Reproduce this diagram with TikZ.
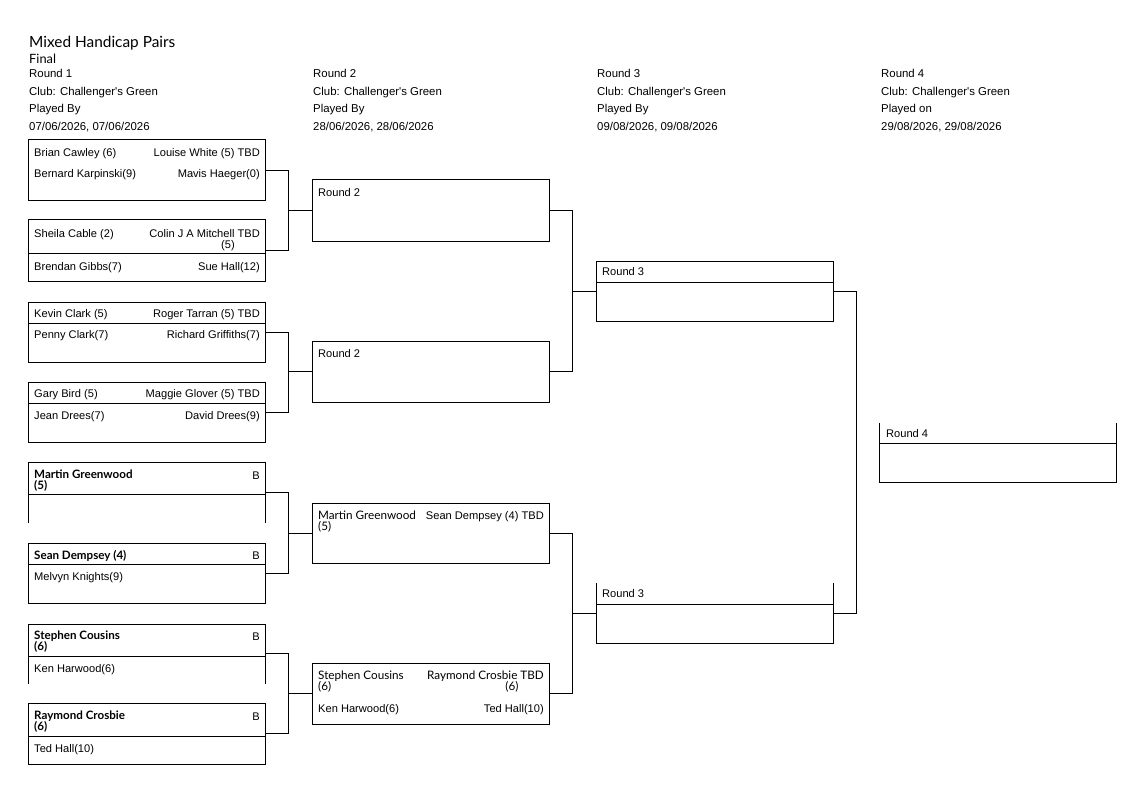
\documentclass[tikz,border=0pt]{standalone}
\usepackage{fontspec}
\setmainfont{Liberation Sans}
\newfontfamily\latofont{Lato}
\usetikzlibrary{calc}
\newcommand\hdrfont{\fontsize{11.4}{13}\selectfont}
\newcommand\nmfont{\fontsize{11.1}{12}\selectfont}
\newcommand\bnmfont{\latofont\bfseries\fontsize{11.6}{12}\selectfont}
\newcommand\lnmfont{\latofont\fontsize{11.7}{12}\selectfont}
\tikzset{
  hdr/.style={anchor=base west, inner sep=0pt, font=\hdrfont},
  nm/.style={anchor=base west, inner sep=0pt, font=\nmfont},
  nmr/.style={anchor=base east, inner sep=0pt, font=\nmfont},
  nmc/.style={anchor=base, inner sep=0pt, font=\nmfont},
  bnm/.style={anchor=base west, inner sep=0pt, font=\bnmfont},
  bnmr/.style={anchor=base east, inner sep=0pt, font=\nmfont},
  lnm/.style={anchor=base west, inner sep=0pt, font=\lnmfont},
  lnmr/.style={anchor=base east, inner sep=0pt, font=\lnmfont},
  lnmc/.style={anchor=base, inner sep=0pt, font=\lnmfont},
  boxarea/.style={draw=none, minimum width=237pt, inner sep=0pt, outer sep=0pt},
  ln/.style={line width=1pt, line cap=rect},
}
\begin{document}
\begin{tikzpicture}[x=1pt,y=-1pt]
\useasboundingbox (0,0) rectangle (1131,802);
\fill[white] (0,0) rectangle (1131,802);

% ---- titles ----
\node[anchor=base west, inner sep=0pt, font=\latofont\fontsize{15.4}{17}\selectfont] (title) at (29,48) {Mixed Handicap Pairs};
\node[anchor=base west, inner sep=0pt, font=\latofont\fontsize{12.8}{15}\selectfont] (final) at (29,63.5) {Final};

% ---- column headers ----
\foreach \cx/\rn/\pl [count=\i] in {29/1/By, 313/2/By, 597/3/By, 881/4/on}{
  \node[hdr] (hr\i) at (\cx,77.5) {Round \rn};
  \node[hdr] (hc\i) at (\cx,95.5) {Club: Challenger\textquotesingle s Green};
  \node[hdr] (hp\i) at (\cx,112.5) {Played \pl};
}
\node[hdr] (hd1) at (29,130.5) {07/06/2026, 07/06/2026};
\node[hdr] (hd2) at (313,130.5) {28/06/2026, 28/06/2026};
\node[hdr] (hd3) at (597,130.5) {09/08/2026, 09/08/2026};
\node[hdr] (hd4) at (881,130.5) {29/08/2026, 29/08/2026};

% ---- box areas ----
\node[boxarea, minimum height=61pt] (b1) at (146.5,170.5) {};
\node[boxarea, minimum height=61pt] (b2) at (146.5,250.5) {};
\node[boxarea, minimum height=60pt] (b3) at (146.5,332) {};
\node[boxarea, minimum height=60pt] (b4) at (146.5,412) {};
\node[boxarea, minimum height=60pt] (b5) at (146.5,492) {};
\node[boxarea, minimum height=60pt] (b6) at (146.5,573) {};
\node[boxarea, minimum height=59pt] (b7) at (146.5,653.5) {};
\node[boxarea, minimum height=61pt] (b8) at (146.5,733.5) {};

\node[boxarea, minimum height=61pt] (r2a) at (431,210.5) {};
\node[boxarea, minimum height=61pt] (r2b) at (431,371.5) {};
\node[boxarea, minimum height=60pt] (r2c) at (431,533) {};
\node[boxarea, minimum height=61pt] (r2d) at (431,693.5) {};

\node[boxarea, minimum height=60pt] (r3a) at (714.5,291) {};
\node[boxarea, minimum height=60pt] (r3b) at (714.5,613) {};

\node[boxarea, minimum height=59pt] (r4) at (998,452.5) {};

% ---- borders ----
\foreach \b in {b1,b2,b3,b4,b6,b8,r2a,r2b,r2c,r2d,r3a}{
  \draw[ln] (\b.south west) rectangle (\b.north east);
}
\foreach \b in {b5,b7}{
  \draw[ln] (\b.south west) -- (\b.north west) -- (\b.north east) -- (\b.south east);
}
\foreach \b in {r3b,r4}{
  \draw[ln] (\b.north west) -- (\b.south west) -- (\b.south east) -- (\b.north east);
}
% separators
\foreach \b/\yy in {b2/253,b3/323,b4/403,b5/494,b6/564,b7/656,b8/736,r3a/282,r3b/604,r4/443}{
  \draw[ln] (\b.west |- 0,\yy) -- (\b.east |- 0,\yy);
}

% ---- connectors ----
\foreach \u/\l/\n in {b1/b2/r2a, b3/b4/r2b, b5/b6/r2c, b7/b8/r2d, r2a/r2b/r3a, r2c/r2d/r3b}{
  \coordinate (m-\n) at ($(\u.east)!.5!(\n.west)$);
  \draw[ln] (\u.east) -| (m-\n |- \l.east) -- (\l.east);
  \draw[ln] (m-\n |- \n.west) -- (\n.west);
}
\coordinate (m-r4) at ($(r3a.east)!.5!(r4.west)$);
\draw[ln] (r3a.east) -| (m-r4 |- r3b.east) -- (r3b.east);

% ---- round 1 texts ----
\node[nm] (t1a) at (34,157) {Brian Cawley (6)};
\node[nmr] (t1b) at (260,157) {Louise White (5) TBD};
\node[nm] (t1c) at (34,177.5) {Bernard Karpinski(9)};
\node[nmr] (t1d) at (260,177.5) {Mavis Haeger(0)};

\node[nm] (t2a) at (34,237) {Sheila Cable (2)};
\node[nmr] (t2b) at (260,237) {Colin J A Mitchell TBD};
\node[nmc] (t2b2) at (228,248.5) {(5)};
\node[nm] (t2c) at (34,270) {Brendan Gibbs(7)};
\node[nmr] (t2d) at (260,270) {Sue Hall(12)};

\node[nm] (t3a) at (34,317.5) {Kevin Clark (5)};
\node[nmr] (t3b) at (260,317.5) {Roger Tarran (5) TBD};
\node[nm] (t3c) at (34,338) {Penny Clark(7)};
\node[nmr] (t3d) at (260,338) {Richard Griffiths(7)};

\node[nm] (t4a) at (34,397.5) {Gary Bird (5)};
\node[nmr] (t4b) at (260,397.5) {Maggie Glover (5) TBD};
\node[nm] (t4c) at (34,419.5) {Jean Drees(7)};
\node[nmr] (t4d) at (260,419.5) {David Drees(9)};

\node[bnm] (t5a) at (34,478.5) {Martin Greenwood};
\node[bnm] (t5a2) at (34,489.5) {(5)};
\node[bnmr] (t5b) at (260,479.5) {B};

\node[bnm] (t6a) at (34,559.5) {Sean Dempsey (4)};
\node[bnmr] (t6b) at (260,559.5) {B};
\node[nm] (t6c) at (34,580.5) {Melvyn Knights(9)};

\node[bnm] (t7a) at (34,639.5) {Stephen Cousins};
\node[bnm] (t7a2) at (34,650.5) {(6)};
\node[bnmr] (t7b) at (260,640.5) {B};
\node[nm] (t7c) at (34,672.5) {Ken Harwood(6)};

\node[bnm] (t8a) at (34,719) {Raymond Crosbie};
\node[bnm] (t8a2) at (34,730) {(6)};
\node[bnmr] (t8b) at (260,720) {B};
\node[nm] (t8c) at (34,752.5) {Ted Hall(10)};

% ---- round 2 texts ----
\node[nm] (u1) at (318,196.5) {Round 2};
\node[nm] (u2) at (318,357.5) {Round 2};

\node[lnm] (u3a) at (318,519) {Martin Greenwood};
\node[lnm] (u3a2) at (318,530) {(5)};
\node[nmr] (u3b) at (544,519.5) {Sean Dempsey (4) TBD};

\node[lnm] (u4a) at (318,679.5) {Stephen Cousins};
\node[lnm] (u4a2) at (318,690.5) {(6)};
\node[lnmr] (u4b) at (544,679.5) {Raymond Crosbie TBD};
\node[lnmc] (u4b2) at (512,690.5) {(6)};
\node[nm] (u4c) at (318,712.5) {Ken Harwood(6)};
\node[nmr] (u4d) at (544,712.5) {Ted Hall(10)};

% ---- round 3 / 4 texts ----
\node[nm] (v1) at (602,275) {Round 3};
\node[nm] (v2) at (602,597.5) {Round 3};
\node[nm] (w1) at (886,437.5) {Round 4};
\end{tikzpicture}
\end{document}
